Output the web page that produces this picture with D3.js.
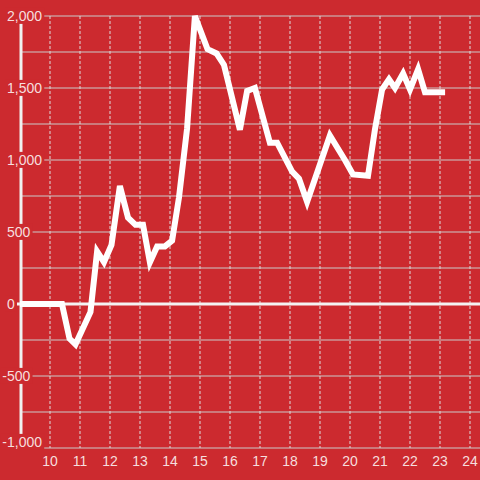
<!DOCTYPE html>
<html><head><meta charset="utf-8">
<script src="https://cdn.jsdelivr.net/npm/d3@7"></script>
<style>html,body{margin:0;padding:0;background:#cc2a2f;}svg{display:block;}</style>
</head><body>
<script>
const hours = [9, 10.4, 10.65, 10.85, 11.35, 11.57, 11.8, 12.05, 12.33, 12.6, 12.85, 13.1, 13.33, 13.57, 13.83, 14.07, 14.3, 14.57, 14.83, 15.25, 15.55, 15.8, 16.33, 16.57, 16.83, 17.33, 17.57, 18.07, 18.3, 18.57, 19.33, 19.83, 20.1, 20.6, 20.83, 21.07, 21.3, 21.5, 21.77, 22.0, 22.27, 22.5, 23.17];
const values = [0, 0, -240, -280, -55, 365, 290, 410, 820, 600, 550, 550, 290, 400, 400, 440, 740, 1220, 2000, 1770, 1740, 1660, 1210, 1480, 1500, 1120, 1120, 920, 870, 710, 1170, 1000, 900, 890, 1210, 1490, 1560, 1500, 1600, 1490, 1630, 1470, 1470];
const yTicks = [-1000, -750, -500, -250, 0, 250, 500, 750, 1000, 1250, 1500, 1750, 2000];
const yLabels = [-1000, -500, 0, 500, 1000, 1500, 2000];
const xTicks = [10, 11, 12, 13, 14, 15, 16, 17, 18, 19, 20, 21, 22, 23, 24];

const W = 480, H = 480;
const bg = "#cc2a2f";
const svg = d3.select("body").append("svg").attr("width", W).attr("height", H);
svg.append("rect").attr("width", W).attr("height", H).attr("fill", bg);

const x = d3.scaleLinear().domain([10, 24]).range([50, 470]);
const y = d3.scaleLinear().domain([-1000, 2000]).range([448, 16]);

// horizontal gridlines
svg.append("g").selectAll("line").data(yTicks.filter(d => d !== 0)).join("line")
  .attr("x1", 20).attr("x2", W).attr("y1", d => y(d)).attr("y2", d => y(d))
  .attr("stroke", "#c9c9c9").attr("stroke-width", 1.2);

// vertical dotted gridlines
svg.append("g").selectAll("line").data(xTicks).join("line")
  .attr("x1", d => x(d)).attr("x2", d => x(d)).attr("y1", y(2000)).attr("y2", y(-1000))
  .attr("stroke", "#dcdcdc").attr("stroke-width", 1).attr("stroke-dasharray", "3,2");

// zero line
svg.append("line").attr("x1", 17).attr("x2", W).attr("y1", y(0)).attr("y2", y(0))
  .attr("stroke", "#f4f4f4").attr("stroke-width", 3);

// vertical axis line
svg.append("line").attr("x1", 21).attr("x2", 21).attr("y1", y(2000)).attr("y2", y(-1000))
  .attr("stroke", "#f0f0f0").attr("stroke-width", 3);

// data line
svg.append("clipPath").attr("id", "clip").append("rect")
  .attr("x", 17).attr("y", 0).attr("width", W - 17).attr("height", H);
svg.append("path").datum(hours.map((h, i) => [h, values[i]]))
  .attr("clip-path", "url(#clip)")
  .attr("fill", "none").attr("stroke", "#ffffff").attr("stroke-width", 6)
  .attr("stroke-linejoin", "miter")
  .attr("d", d3.line().x(d => x(d[0])).y(d => y(d[1])));

// y labels with background (left aligned, minus sign hanging left)
const fmt = d3.format(",");
const yl = svg.append("g");
yLabels.forEach(v => {
  const g = yl.append("g");
  const ty = Math.min(y(v), 442);
  const t = g.append("text").attr("x", v < 0 ? 2.3 : 7).attr("y", ty).attr("dy", "0.35em")
    .attr("text-anchor", "start").attr("font-family", "Liberation Sans, Arial, sans-serif")
    .attr("font-size", 14).attr("fill", "#f6dede").text(fmt(v).replace("−", "-"));
  const b = t.node().getBBox();
  g.insert("rect", "text").attr("x", b.x - 2).attr("y", b.y).attr("width", b.width + 4).attr("height", b.height)
    .attr("fill", bg);
});

// x labels
svg.append("g").selectAll("text").data(xTicks).join("text")
  .attr("x", d => x(d)).attr("y", 461).attr("dy", "0.35em")
  .attr("text-anchor", "middle").attr("font-family", "Liberation Sans, Arial, sans-serif")
  .attr("font-size", 14).attr("fill", "#f6dede").text(d => d);
</script>
</body></html>
